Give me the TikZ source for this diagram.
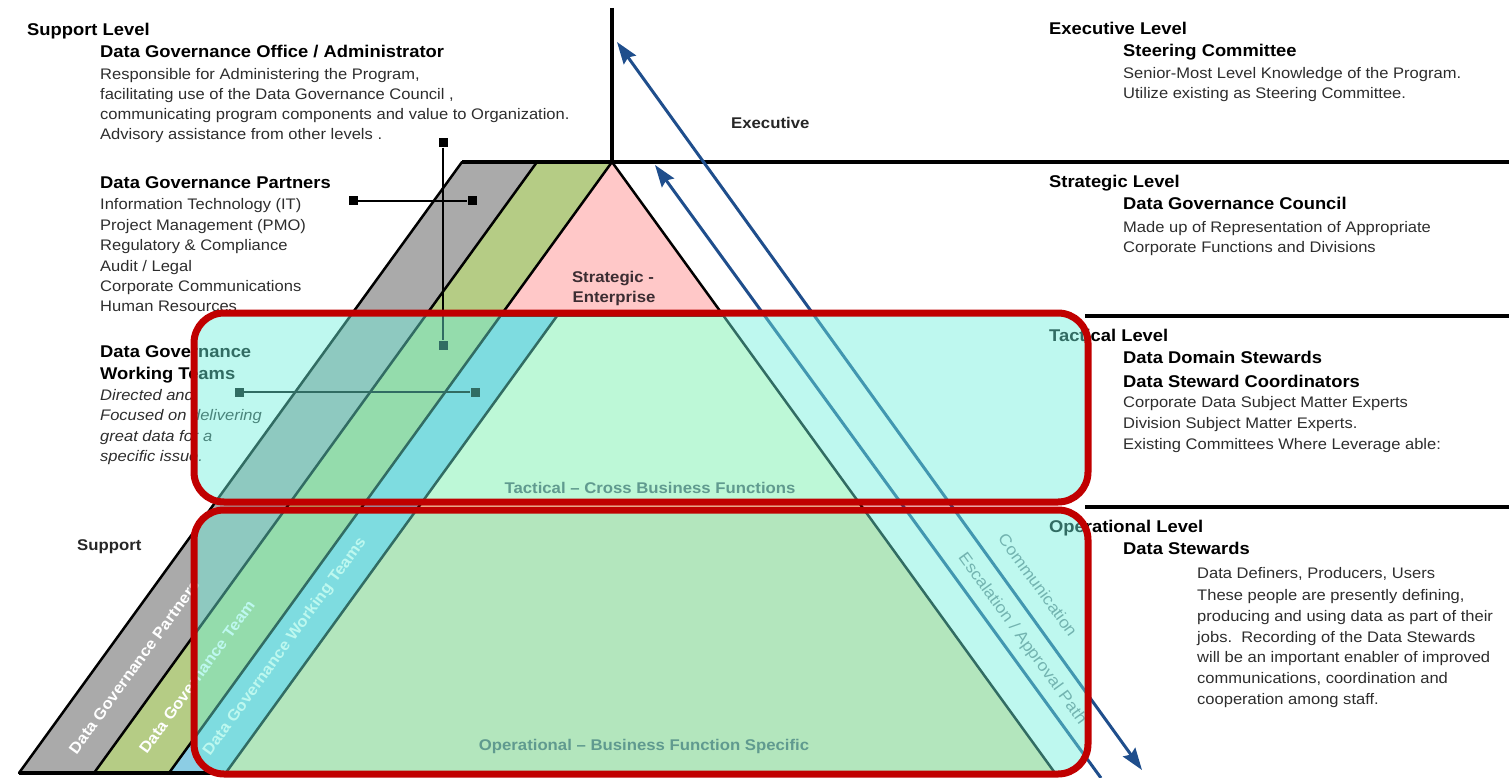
\documentclass[tikz,border=0pt]{standalone}
\usepackage{fontspec}
\setmainfont{Liberation Sans}[FakeStretch=1.08]
\usetikzlibrary{arrows.meta}
\definecolor{bandgray}{RGB}{170,170,170}
\definecolor{bandolive}{RGB}{181,204,133}
\definecolor{bandblue}{RGB}{140,205,228}
\definecolor{pinkfill}{RGB}{255,200,200}
\definecolor{tactfill}{RGB}{255,255,211}
\definecolor{opfill}{RGB}{237,222,165}
\definecolor{overlay}{RGB}{110,240,220}
\definecolor{boxred}{RGB}{192,0,0}
\definecolor{arrowblue}{RGB}{31,78,140}
\definecolor{bodytext}{RGB}{45,45,45}
\definecolor{labelgray}{RGB}{85,85,80}
\definecolor{arrlabelgray}{RGB}{120,130,140}
\definecolor{stratext}{RGB}{60,45,50}
\tikzset{
  hd/.style={anchor=base west, inner sep=0pt, font=\fontsize{17}{20}\selectfont\bfseries, text=black},
  bd/.style={anchor=base west, inner sep=0pt, font=\fontsize{15.3}{20}\selectfont, text=bodytext},
  itx/.style={anchor=base west, inner sep=0pt, font=\fontsize{15.3}{20}\selectfont\itshape, text=bodytext},
  lbl/.style={inner sep=0pt, font=\fontsize{15.5}{18}\selectfont\bfseries, text=black!85},
  bandlbl/.style={inner sep=0pt, font=\fontsize{15.5}{18}\selectfont\bfseries, text=white, rotate=54},
  arrlbl/.style={inner sep=0pt, font=\fontsize{16.3}{18}\selectfont, text=arrlabelgray, rotate=-54},
  edge/.style={draw=black, line width=2.5pt, line cap=round},
  heavy/.style={draw=black, line width=3.5pt},
  sq/.style={rectangle, fill=black, minimum size=9pt, inner sep=0pt},
  conn/.style={draw=black, line width=2pt},
  flow/.style={draw=arrowblue, line width=3pt},
  overbox/.style={rounded corners=30pt, fill=overlay, fill opacity=0.45, draw=boxred, draw opacity=1, line width=7pt},
  >={Stealth[length=22pt,width=15pt,inset=3pt]}
}
\begin{document}
\begin{tikzpicture}[x=1pt,y=-1pt]
\useasboundingbox (0,0) rectangle (1509,778);
% fills
\fill[bandgray] (462,162) -- (537,162) -- (94,773) -- (19,773) -- cycle;
\fill[bandolive] (537,162) -- (612,162) -- (169,773) -- (94,773) -- cycle;
\fill[bandblue] (500.3,316) -- (557,316) -- (225.7,773) -- (169,773) -- cycle;
\fill[tactfill] (557,316) -- (723.7,316) -- (862.2,507) -- (418.5,507) -- cycle;
\fill[opfill] (418.5,507) -- (862.2,507) -- (1055,773) -- (225.7,773) -- cycle;
\fill[pinkfill] (612,162) -- (723.7,316) -- (500.3,316) -- cycle;
% pyramid edges
\coordinate (apex) at (612,162);
\draw[edge] (462,162) -- (19,773);
\draw[edge] (537,162) -- (94,773);
\draw[edge] (apex) -- (169,773);
\draw[edge] (557,316) -- (225.7,773);
\draw[edge] (apex) -- (1055,773);
\draw[edge] (500.3,316) -- (723.7,316);
\draw[heavy] (462,162) -- (1509,162);
\draw[heavy] (19,773) -- (1055,773);
\draw[heavy] (612,8) -- (apex);
\draw[heavy] (1085,316) -- (1509,316);
\draw[heavy] (1085,507) -- (1509,507);
% left texts
\node[hd] (supL) at (27,36) {Support Level};
\node[hd] (dgo) at (100,58) {Data Governance Office / Administrator};
\node[bd] (dgo1) at (100,80) {Responsible for Administering the Program,};
\node[bd] (dgo2) at (100,100) {facilitating use of the Data Governance Council ,};
\node[bd] (dgo3) at (100,120) {communicating program components and value to Organization.};
\node[bd] (dgo4) at (100,140) {Advisory assistance from other levels .};
\node[hd] (dgp) at (100,189) {Data Governance Partners};
\node[bd] (dgp1) at (100,209.5) {Information Technology (IT)};
\node[bd] (dgp2) at (100,230) {Project Management (PMO)};
\node[bd] (dgp3) at (100,250.5) {Regulatory \& Compliance};
\node[bd] (dgp4) at (100,271) {Audit / Legal};
\node[bd] (dgp5) at (100,291) {Corporate Communications};
\node[bd] (dgp6) at (100,311.5) {Human Resources};
\node[hd] (dgw) at (100,357) {Data Governance};
\node[hd] (dgw0) at (100,379) {Working Teams};
\node[itx] (dgw1) at (100,400) {Directed and};
\node[itx] (dgw2) at (100,420.5) {Focused on delivering};
\node[itx] (dgw3) at (100,441) {great data for a};
\node[itx] (dgw4) at (100,461.5) {specific issue.};
% right texts
\node[hd] (exL) at (1049,35) {Executive Level};
\node[hd] (exS) at (1123,57) {Steering Committee};
\node[bd] (ex1) at (1123,79) {Senior-Most Level Knowledge of the Program.};
\node[bd] (ex2) at (1123,99) {Utilize existing as Steering Committee.};
\node[hd] (stL) at (1049,188) {Strategic Level};
\node[hd] (stC) at (1123,210) {Data Governance Council};
\node[bd] (st1) at (1123,232) {Made up of Representation of Appropriate};
\node[bd] (st2) at (1123,252) {Corporate Functions and Divisions};
\node[hd] (taL) at (1049,341) {Tactical Level};
\node[hd] (taD) at (1123,363) {Data Domain Stewards};
\node[hd] (taC) at (1123,387) {Data Steward Coordinators};
\node[bd] (ta1) at (1123,407.5) {Corporate Data Subject Matter Experts};
\node[bd] (ta2) at (1123,428) {Division Subject Matter Experts.};
\node[bd] (ta3) at (1123,449) {Existing Committees Where Leverage able:};
\node[hd] (opL) at (1049,532) {Operational Level};
\node[hd] (opD) at (1123,554) {Data Stewards};
\node[bd] (op1) at (1197,578) {Data Definers, Producers, Users};
\node[bd] (op2) at (1197,600) {These people are presently defining,};
\node[bd] (op3) at (1197,621) {producing and using data as part of their};
\node[bd] (op4) at (1197,642) {jobs.\ \ Recording of the Data Stewards};
\node[bd] (op5) at (1197,662.5) {will be an important enabler of improved};
\node[bd] (op6) at (1197,683) {communications, coordination and};
\node[bd] (op7) at (1197,704) {cooperation among staff.};
% pyramid labels
\node[lbl, anchor=base west] (execlbl) at (731,129) {Executive};
\node[lbl, anchor=base west] (suplbl) at (77,550) {Support};
\node[lbl, anchor=base, text=stratext] (str1) at (613,282) {Strategic -};
\node[lbl, anchor=base, text=stratext] (str2) at (614,302) {Enterprise};
\node[lbl, anchor=base, text=labelgray] (taclbl) at (650,493) {Tactical – Cross Business Functions};
\node[lbl, anchor=base, text=labelgray] (oplbl) at (644,750) {Operational – Business Function Specific};
\node[bandlbl] (bl1) at (134,667) {Data Governance Partners};
\node[bandlbl] (bl2) at (197,677) {Data Governance Team};
\node[bandlbl] (bl3) at (285,647) {Data Governance Working Teams};
% connectors
\node[sq] (va) at (443,143) {};
\node[sq] (vb) at (443,345) {};
\draw[conn] (va) -- (vb);
\node[sq] (ha) at (353,201) {};
\node[sq] (hb) at (472,201) {};
\draw[conn] (ha) -- (hb);
\node[sq] (ka) at (239,392) {};
\node[sq] (kb) at (475,392) {};
\draw[conn] (ka) -- (kb);
% arrows
\coordinate (c1a) at (617,42);
\coordinate (c1b) at (1142,770);
\coordinate (c2a) at (655,165);
\coordinate (c2b) at (1101,778);
\draw[flow, <->] (c1a) -- (c1b);
\draw[flow, ->] (c2b) -- (c2a);
\node[arrlbl] (comm) at (1038,585) {Communication};
\node[arrlbl] (esc) at (1022,639) {Escalation / Approval Path};
% boxes
\draw[overbox] (194,313) rectangle (1088,502);
\draw[overbox] (194,510) rectangle (1088,774);
\end{tikzpicture}
\end{document}
